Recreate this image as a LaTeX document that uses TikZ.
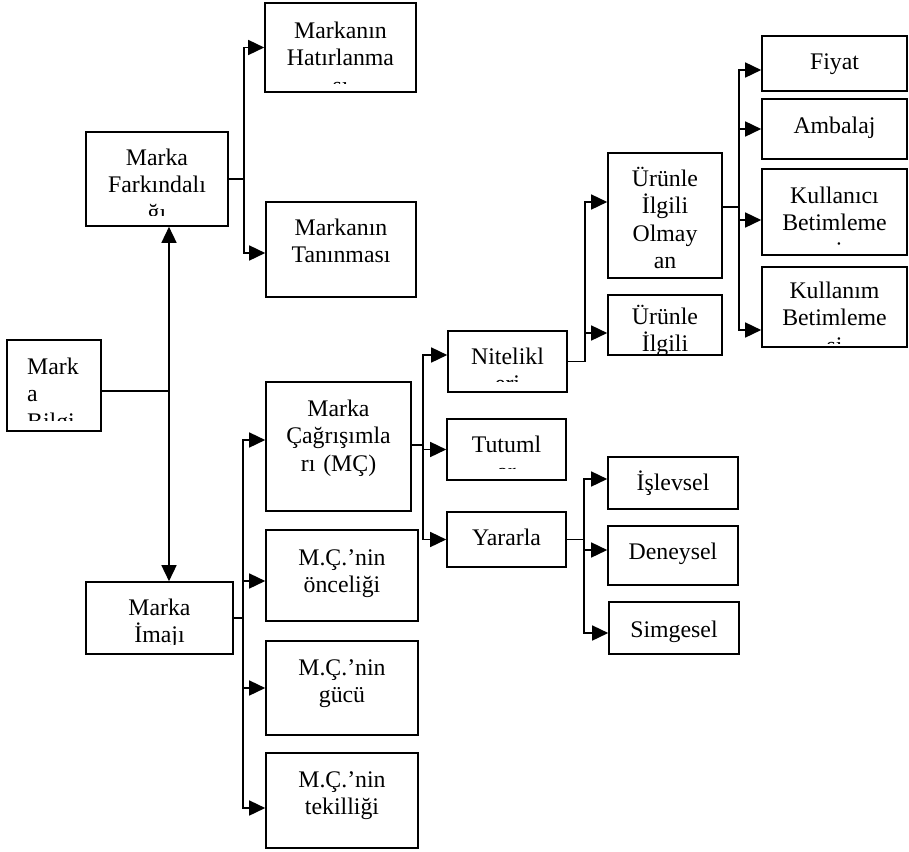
\documentclass[tikz,border=0pt]{standalone}
\usepackage{fontspec}
\setmainfont{Liberation Serif}
\usetikzlibrary{arrows.meta}
\tikzset{
  box/.style={draw, line width=1.6pt, rectangle, inner sep=0pt},
  txt/.style={inner sep=0pt, font=\fontsize{23.8}{27.5}\selectfont, text width=200pt, align=center},
  ln/.style={line width=1.5pt},
  arr/.style={line width=1.5pt, -{Triangle[length=16pt,width=15pt]}}
}
\newcommand{\mkbox}[8]{%
  \pgfmathsetmacro{\bxcx}{(#2+#4)/2}%
  \pgfmathsetmacro{\bxcy}{(#3+#5)/2}%
  \pgfmathsetmacro{\bxw}{#4-#2}%
  \pgfmathsetmacro{\bxh}{#5-#3}%
  \node[box, minimum width=\bxw pt, minimum height=\bxh pt] (#1) at (\bxcx,\bxcy) {};
  \begin{scope}
    \clip (#2,#3) rectangle (#4,#7);
    \node[txt, anchor=base] (#1-t) at (\bxcx,#6) {#8};
  \end{scope}}
\begin{document}
\begin{tikzpicture}[x=1pt,y=-1pt]
\useasboundingbox (0,0) rectangle (909,851);
% left box (left aligned text)
\node[box, minimum width=94pt, minimum height=91pt] (bilgi) at (54,385.5) {};
\begin{scope}
  \clip (7,340) rectangle (101,420);
  \node[txt, align=left, anchor=base west] (bilgi-t) at (27,374) {Mark\\a\\Bilgi\\si};
\end{scope}
\mkbox{fark}{86}{132}{228}{226}{165}{215}{Marka\\Farkındalı\\ğı}
\mkbox{hatir}{265}{3}{416}{92}{38}{83}{Markanın\\Hatırlanma\\sı}
\mkbox{tanin}{266}{202}{416}{297}{235}{290}{Markanın\\Tanınması}
\mkbox{mc}{266}{382}{411}{511}{416}{505}{Marka\\Çağrışımla\\rı (MÇ)}
\mkbox{once}{266}{530}{418}{621}{565}{615}{M.Ç.’nin\\önceliği}
\mkbox{guc}{266}{641}{418}{735}{675}{728}{M.Ç.’nin\\gücü}
\mkbox{tekil}{266}{753}{418}{848}{787}{840}{M.Ç.’nin\\tekilliği}
\mkbox{imaj}{86}{582}{233}{654}{615}{644}{Marka\\İmajı}
\mkbox{nit}{448}{331}{567}{392}{364}{381}{Nitelikl\\eri}
\mkbox{tut}{447}{419}{566}{480}{452}{468}{Tutuml\\ar}
\mkbox{yar}{447}{512}{566}{567}{545}{557}{Yararla\\r}
\mkbox{islev}{608}{457}{738}{509}{490}{505}{İşlevsel}
\mkbox{deney}{608}{526}{738}{585}{559}{580}{Deneysel}
\mkbox{simge}{609}{602}{739}{654}{637}{650}{Simgesel}
\mkbox{olm}{608}{153}{722}{278}{186}{274}{Ürünle\\İlgili\\Olmay\\an}
\mkbox{ilg}{608}{295}{722}{355}{324}{353}{Ürünle\\İlgili}
\mkbox{fiyat}{762}{36}{907}{91}{70}{88}{Fiyat}
\mkbox{amb}{762}{99}{907}{159}{133}{155}{Ambalaj}
\mkbox{kulci}{762}{169}{907}{255}{203}{245}{Kullanıcı\\Betimleme\\si}
\mkbox{kulim}{762}{267}{907}{347}{298}{343}{Kullanım\\Betimleme\\si}
% trunk x positions
\coordinate (x1) at (169,0);
\coordinate (x2) at (244,0);
\coordinate (x3) at (243,0);
\coordinate (x4) at (423,0);
\coordinate (x5) at (585,0);
\coordinate (x6) at (739,0);
\coordinate (x7) at (584,0);
% Marka Bilgisi
\coordinate (b1) at ([yshift=-5.5pt]bilgi.east);
\coordinate (j1) at (b1 -| x1);
\draw[ln] (b1) -- (j1);
\draw[arr] (j1) -- (j1 |- fark.south);
\draw[arr] (j1) -- (j1 |- imaj.north);
% Farkindaligi
\coordinate (j2) at (fark.east -| x2);
\draw[ln] (fark.east) -- (j2);
\draw[arr] (j2) |- (hatir.west);
\draw[arr] (j2) |- ([yshift=-3.5pt]tanin.west);
% Imaji
\coordinate (j3) at (imaj.east -| x3);
\draw[ln] (imaj.east) -- (j3);
\draw[arr] (j3) |- ([yshift=6.5pt]mc.west);
\draw[arr] (j3) |- ([yshift=-5.5pt]once.west);
\draw[arr] (j3) |- (guc.west);
\draw[arr] (j3) |- ([yshift=-7.5pt]tekil.west);
% MC
\coordinate (c4) at ([yshift=1.5pt]mc.east);
\coordinate (j4) at (c4 -| x4);
\draw[ln] (c4) -- (j4);
\draw[arr] (j4) |- ([yshift=6.5pt]nit.west);
\draw[arr] (j4) |- (tut.west);
\draw[arr] (j4) |- (yar.west);
% Nitelikleri
\coordinate (j5) at (nit.east -| x5);
\draw[ln] (nit.east) -- (j5);
\draw[arr] (j5) |- ([yshift=13.5pt]olm.west);
\draw[arr] (j5) |- ([yshift=-8pt]ilg.west);
% Urunle Ilgili Olmayan
\coordinate (c6) at ([yshift=8.5pt]olm.east);
\coordinate (j6) at (c6 -| x6);
\draw[ln] (c6) -- (j6);
\draw[arr] (j6) |- ([yshift=-6.5pt]fiyat.west);
\draw[arr] (j6) |- (amb.west);
\draw[arr] (j6) |- ([yshift=-8pt]kulci.west);
\draw[arr] (j6) |- ([yshift=-23pt]kulim.west);
% Yararlar
\coordinate (j7) at (yar.east -| x7);
\draw[ln] (yar.east) -- (j7);
\draw[arr] (j7) |- ([yshift=4pt]islev.west);
\draw[arr] (j7) |- ([yshift=5.5pt]deney.west);
\draw[arr] (j7) |- ([yshift=-5pt]simge.west);
\end{tikzpicture}
\end{document}
